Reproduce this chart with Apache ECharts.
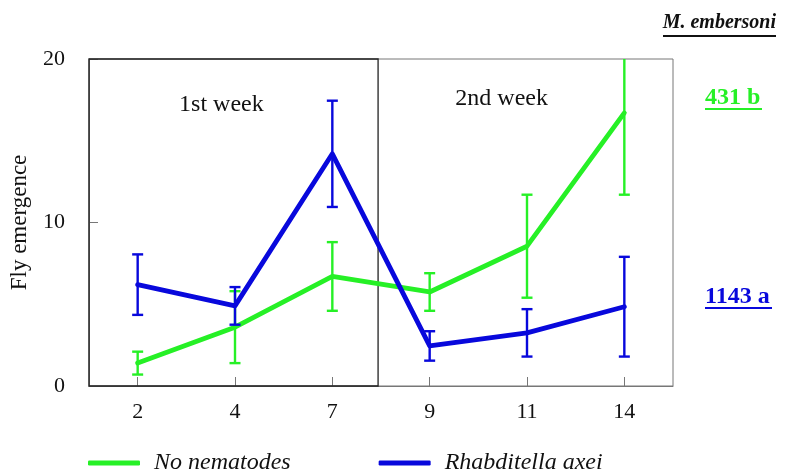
<!DOCTYPE html>
<html><head><meta charset="utf-8">
<script src="https://cdn.jsdelivr.net/npm/echarts@6/dist/echarts.min.js"></script>
<style>html,body{margin:0;padding:0;background:#fff}#c{width:804px;height:470px}</style>
</head><body><div id="c"></div>
<script>
const categories = ['2', '4', '7', '9', '11', '14'];
const noNematodes = [1.4, 3.6, 6.7, 5.75, 8.55, 16.7];
const noNematodesErr = [0.7, 2.2, 2.1, 1.15, 3.15, 5.0];
const rhabditella = [6.2, 4.9, 14.2, 2.45, 3.25, 4.85];
const rhabditellaErr = [1.85, 1.15, 3.25, 0.9, 1.45, 3.05];
const yTicks = [0, 10, 20];
const weekLabels = ['1st week', '2nd week'];
const seriesNames = ['No nematodes', 'Rhabditella axei'];
const totals = ['431 b', '1143 a'];

const GREEN = '#26f026', BLUE = '#0808dc';
const FONT = '"Liberation Serif", "Times New Roman", serif';

function errSeries(name, vals, errs, color) {
  return {
    name: name + ' err', type: 'custom', xAxisIndex: 0, yAxisIndex: 0,
    data: vals.map((v, i) => [i, v, errs[i]]),
    clip: true, silent: true, z: 3,
    renderItem: function (params, api) {
      const i = api.value(0), v = api.value(1), e = api.value(2);
      const lo = api.coord([i, Math.max(0, v - e)]);
      const hi = api.coord([i, Math.min(20, v + e)]);
      const w = 5.5;
      const st = { stroke: color, lineWidth: 2.4 };
      const children = [
        { type: 'line', shape: { x1: lo[0], y1: lo[1], x2: hi[0], y2: hi[1] }, style: st },
        { type: 'line', shape: { x1: lo[0] - w, y1: lo[1], x2: lo[0] + w, y2: lo[1] }, style: st }
      ];
      if (v + e <= 20) children.push({ type: 'line', shape: { x1: hi[0] - w, y1: hi[1], x2: hi[0] + w, y2: hi[1] }, style: st });
      return { type: 'group', children: children };
    }
  };
}

const chart = echarts.init(document.getElementById('c'), null, { renderer: 'canvas' });
chart.setOption({
  animation: false,
  backgroundColor: '#fff',
  textStyle: { fontFamily: FONT },
  grid: { left: 88, right: 131, top: 59, bottom: 84, show: true, borderColor: '#777', borderWidth: 1, backgroundColor: 'transparent' },
  legend: {
    left: 83, top: 446,
    itemWidth: 52, itemHeight: 5, itemGap: 88,
    icon: 'roundRect',
    data: seriesNames,
    textStyle: { fontFamily: FONT, fontStyle: 'italic', fontSize: 24, color: '#111', padding: [0, 0, 0, 9] }
  },
  xAxis: [{
    type: 'category', data: categories, boundaryGap: true,
    axisLine: { show: true, lineStyle: { color: '#777', width: 1 } },
    axisTick: { show: true, inside: true, alignWithLabel: true, length: 9, lineStyle: { color: '#777' } },
    axisLabel: { fontFamily: FONT, fontSize: 22, color: '#111', margin: 15 },
    splitLine: { show: false }
  }, {
    type: 'value', min: 0, max: 6, show: false, position: 'bottom'
  }],
  yAxis: [{
    type: 'value', min: 0, max: 20, interval: 10,
    name: 'Fly emergence', nameLocation: 'middle', nameGap: 58, nameRotate: 90,
    nameTextStyle: { fontFamily: FONT, fontSize: 23, color: '#111' },
    axisLine: { show: true, lineStyle: { color: '#777', width: 1 } },
    axisTick: { show: true, inside: true, length: 9, lineStyle: { color: '#777' } },
    axisLabel: { fontFamily: FONT, fontSize: 22, color: '#111', margin: 24,
      customValues: yTicks },
    splitLine: { show: false }
  }],
  series: [
    {
      name: 'weeks', type: 'line', xAxisIndex: 1, yAxisIndex: 0, data: [], silent: true, z: 1,
      markArea: {
        silent: true,
        itemStyle: { color: 'transparent', borderColor: '#222', borderWidth: 1.3 },
        label: { show: false },
        data: [[{ xAxis: 0, yAxis: 0 }, { xAxis: 2.97, yAxis: 20 }]]
      },
      markPoint: {
        silent: true, symbol: 'circle', symbolSize: 0,
        label: { show: true, position: 'inside', fontFamily: FONT, fontSize: 24, color: '#111', formatter: '{b}' },
        data: [
          { name: weekLabels[0], coord: [1.36, 17.2] },
          { name: weekLabels[1], coord: [4.24, 17.55] }
        ]
      }
    },
    {
      name: seriesNames[0], type: 'line', data: noNematodes, symbol: 'none', z: 2,
      lineStyle: { color: GREEN, width: 4.8, cap: 'round', join: 'round' }, itemStyle: { color: GREEN }
    },
    errSeries(seriesNames[0], noNematodes, noNematodesErr, GREEN),
    {
      name: seriesNames[1], type: 'line', data: rhabditella, symbol: 'none', z: 4,
      lineStyle: { color: BLUE, width: 4.8, cap: 'round', join: 'round' }, itemStyle: { color: BLUE }
    },
    errSeries(seriesNames[1], rhabditella, rhabditellaErr, BLUE)
  ],
  graphic: [
    { type: 'text', right: 28, top: 13, style: { text: 'M. embersoni', font: 'italic bold 20px ' + FONT, fill: '#111' } },
    { type: 'rect', right: 28, top: 35, shape: { width: 113, height: 2 }, style: { fill: '#111' } },
    { type: 'text', left: 705, top: 86, style: { text: totals[0], font: 'bold 24px ' + FONT, fill: GREEN } },
    { type: 'rect', left: 705, top: 108, shape: { width: 57, height: 2 }, style: { fill: GREEN } },
    { type: 'text', left: 705, top: 285, style: { text: totals[1], font: 'bold 24px ' + FONT, fill: BLUE } },
    { type: 'rect', left: 705, top: 307, shape: { width: 67, height: 2 }, style: { fill: BLUE } }
  ]
});
</script></body></html>
